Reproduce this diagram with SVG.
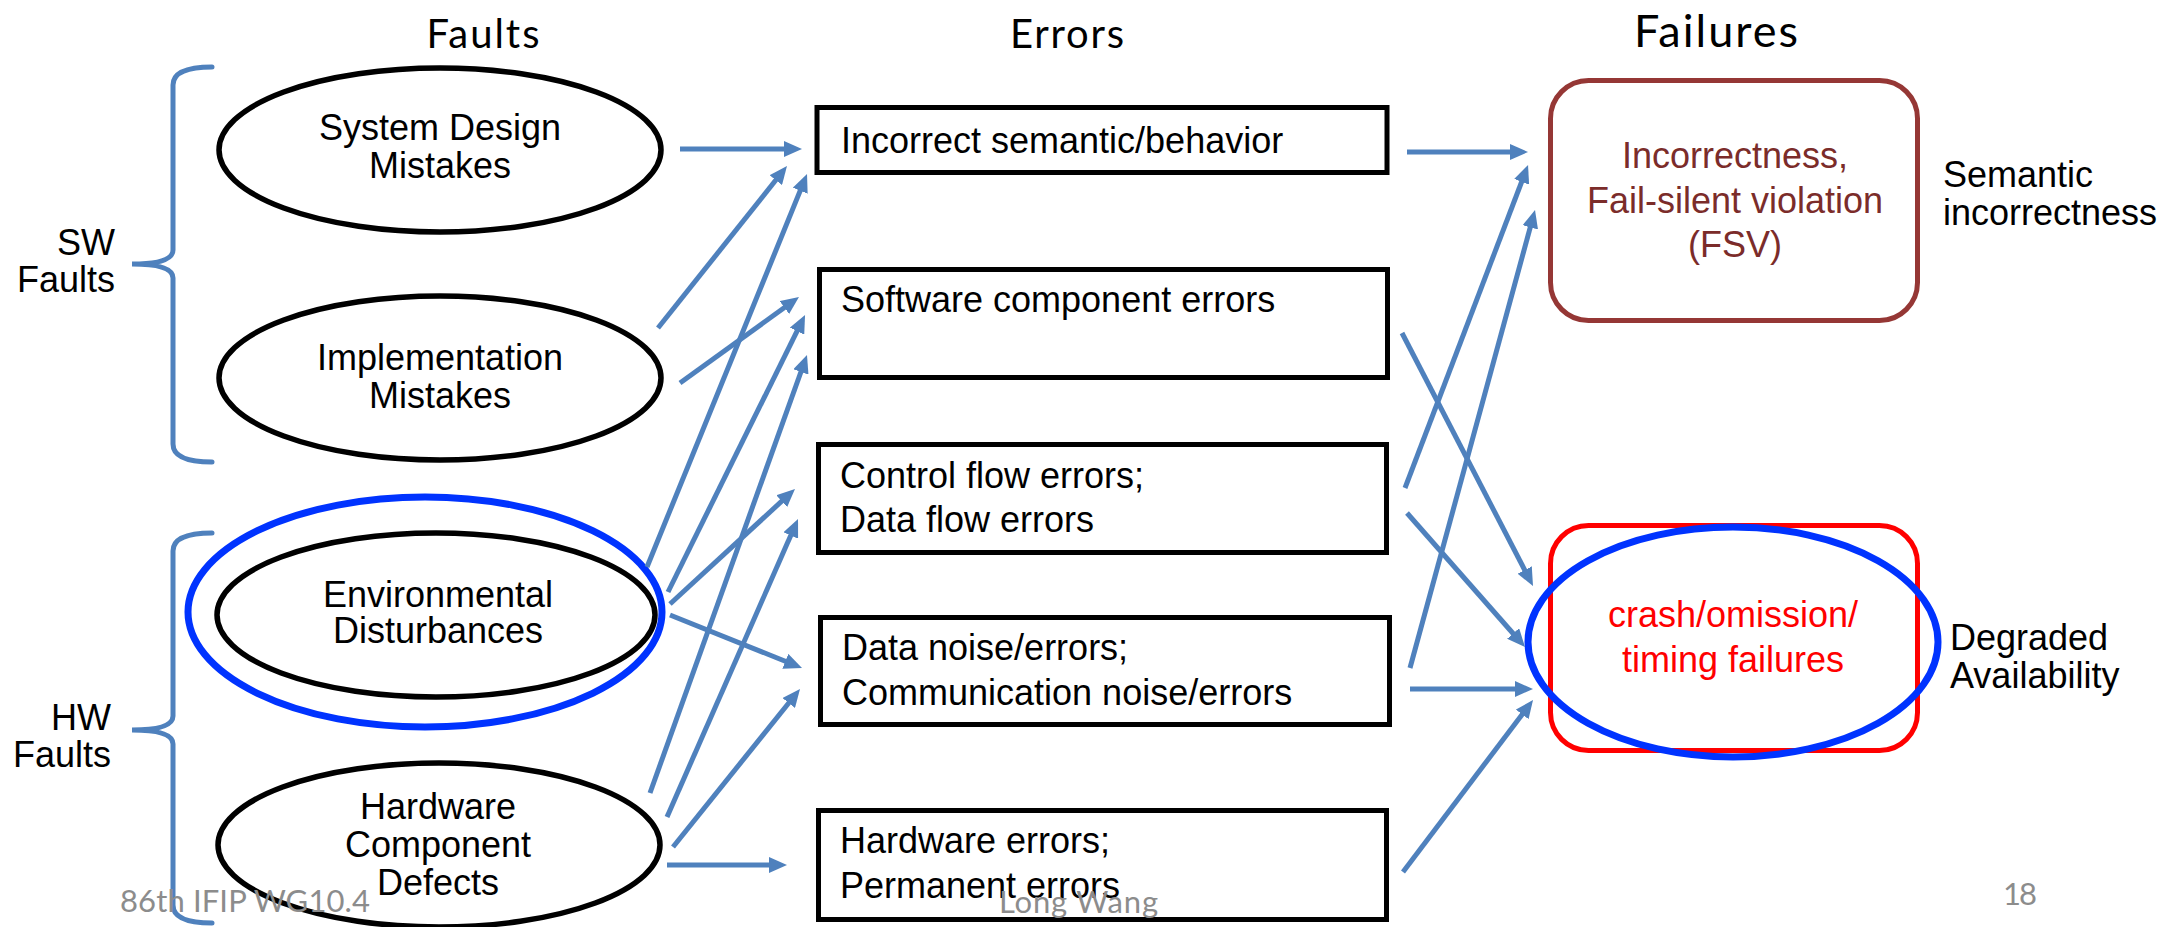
<svg xmlns="http://www.w3.org/2000/svg" width="2161" height="927" viewBox="0 0 2161 927">
<style>
.t{font-family:"Liberation Sans",Arial,sans-serif;font-size:36px;fill:#000}
.c{text-anchor:middle}
.title{font-family:Lato,"Open Sans",sans-serif;fill:#000;text-anchor:middle}
.foot{font-family:Lato,"Open Sans",sans-serif;fill:#8c8c8c;font-size:31px}
.ell{fill:none;stroke:#000;stroke-width:5.5}
.box{fill:none;stroke:#000;stroke-width:5}
.br{fill:none;stroke:#4F81BD;stroke-width:5;stroke-linecap:round}
.conn line{stroke:#4F81BD;stroke-width:5;marker-end:url(#ah)}
</style>
<defs>
<marker id="ah" markerUnits="userSpaceOnUse" markerWidth="18" markerHeight="16" refX="10" refY="8" orient="auto">
<path d="M0,0 L18,8 L0,16 z" fill="#4F81BD"/>
</marker>
</defs>
<rect width="2161" height="927" fill="#fff"/>

<g id="titles">
<text class="title" x="483" y="48" font-size="40" textLength="113">Faults</text>
<text class="title" x="1067" y="48" font-size="40" textLength="114">Errors</text>
<text class="title" x="1716" y="47" font-size="45" textLength="164">Failures</text>
</g>

<g id="sw-faults">
<path class="br" d="M212,67 Q173,67 173,85 L173,250 Q173,264 132,264 Q173,264 173,278 L173,444 Q173,462 212,462"/>
<text class="t" x="115" y="255" text-anchor="end">SW</text>
<text class="t" x="115" y="292" text-anchor="end">Faults</text>
</g>
<g id="hw-faults">
<path class="br" d="M212,533 Q173,533 173,551 L173,716 Q173,730 132,730 Q173,730 173,744 L173,905 Q173,923 212,923"/>
<text class="t" x="111" y="730" text-anchor="end">HW</text>
<text class="t" x="111" y="767" text-anchor="end">Faults</text>
</g>

<g id="system-design">
<ellipse class="ell" cx="440" cy="150" rx="221" ry="82"/>
<text class="t c" x="440" y="140">System Design</text>
<text class="t c" x="440" y="178">Mistakes</text>
</g>
<g id="implementation">
<ellipse class="ell" cx="440" cy="378" rx="221" ry="82"/>
<text class="t c" x="440" y="370">Implementation</text>
<text class="t c" x="440" y="408">Mistakes</text>
</g>
<g id="environmental">
<ellipse class="ell" cx="436" cy="615" rx="219" ry="82"/>
<ellipse cx="425" cy="612" rx="237" ry="115" fill="none" stroke="#0033FF" stroke-width="7"/>
<text class="t c" x="438" y="607">Environmental</text>
<text class="t c" x="438" y="643">Disturbances</text>
</g>
<g id="hardware-defects">
<ellipse class="ell" cx="439" cy="845" rx="221" ry="82"/>
<text class="t c" x="438" y="819">Hardware</text>
<text class="t c" x="438" y="857">Component</text>
<text class="t c" x="438" y="895">Defects</text>
</g>

<g id="err-semantic">
<rect class="box" x="817" y="107.5" width="570" height="65"/>
<text class="t" x="841" y="153">Incorrect semantic/behavior</text>
</g>
<g id="err-software">
<rect class="box" x="819.5" y="269.5" width="568" height="108"/>
<text class="t" x="841" y="312">Software component errors</text>
</g>
<g id="err-flow">
<rect class="box" x="818.5" y="444.5" width="568" height="108"/>
<text class="t" x="840" y="488">Control flow errors;</text>
<text class="t" x="840" y="532">Data flow errors</text>
</g>
<g id="err-noise">
<rect class="box" x="820.5" y="617.5" width="569" height="107"/>
<text class="t" x="842" y="660">Data noise/errors;</text>
<text class="t" x="842" y="705">Communication noise/errors</text>
</g>
<g id="err-hardware">
<rect class="box" x="818.5" y="810.5" width="568" height="109"/>
<text class="t" x="840" y="853">Hardware errors;</text>
<text class="t" x="840" y="898">Permanent errors</text>
</g>

<g id="fail-fsv">
<rect x="1550.5" y="80.5" width="367" height="240" rx="38" fill="none" stroke="#953735" stroke-width="5"/>
<text class="t c" x="1735" y="168" fill="#7b2c2a" style="fill:#7b2c2a">Incorrectness,</text>
<text class="t c" x="1735" y="213" style="fill:#7b2c2a">Fail-silent violation</text>
<text class="t c" x="1735" y="257" style="fill:#7b2c2a">(FSV)</text>
<text class="t" x="1943" y="187">Semantic</text>
<text class="t" x="1943" y="225">incorrectness</text>
</g>
<g id="fail-crash">
<rect x="1550.5" y="525.5" width="367" height="225" rx="38" fill="none" stroke="#FF0000" stroke-width="5"/>
<ellipse cx="1733" cy="642" rx="205" ry="115" fill="none" stroke="#0033FF" stroke-width="7"/>
<text class="t c" x="1733" y="627" style="fill:#FF0000">crash/omission/</text>
<text class="t c" x="1733" y="672" style="fill:#FF0000">timing failures</text>
<text class="t" x="1950" y="650">Degraded</text>
<text class="t" x="1950" y="688">Availability</text>
</g>

<g id="connectors" class="conn">
<line x1="680" y1="149" x2="794" y2="149"/>
<line x1="658" y1="328" x2="782" y2="172.3"/>
<line x1="647" y1="567" x2="804" y2="181.4"/>
<line x1="680" y1="383" x2="792.5" y2="301.7"/>
<line x1="668" y1="592" x2="801.5" y2="322.2"/>
<line x1="650" y1="793" x2="804.3" y2="362.5"/>
<line x1="670" y1="604" x2="789.1" y2="494.4"/>
<line x1="667" y1="817" x2="794.8" y2="526.3"/>
<line x1="670" y1="615" x2="794.6" y2="665"/>
<line x1="673" y1="847" x2="795" y2="695.2"/>
<line x1="667" y1="865" x2="779" y2="865"/>
<line x1="1407" y1="152" x2="1520" y2="152"/>
<line x1="1405" y1="488" x2="1525.2" y2="172.5"/>
<line x1="1410" y1="668" x2="1532.9" y2="217.7"/>
<line x1="1402" y1="333" x2="1529.3" y2="578.9"/>
<line x1="1407" y1="513" x2="1519.7" y2="641"/>
<line x1="1410" y1="689" x2="1525" y2="689"/>
<line x1="1403" y1="872" x2="1528.2" y2="706.4"/>
</g>

<g id="footer">
<text class="foot" x="120" y="912" textLength="250">86th IFIP WG10.4</text>
<text class="foot" x="999" y="913" textLength="159">Long Wang</text>
<text class="foot" x="2003" y="905" textLength="34">18</text>
</g>
</svg>
